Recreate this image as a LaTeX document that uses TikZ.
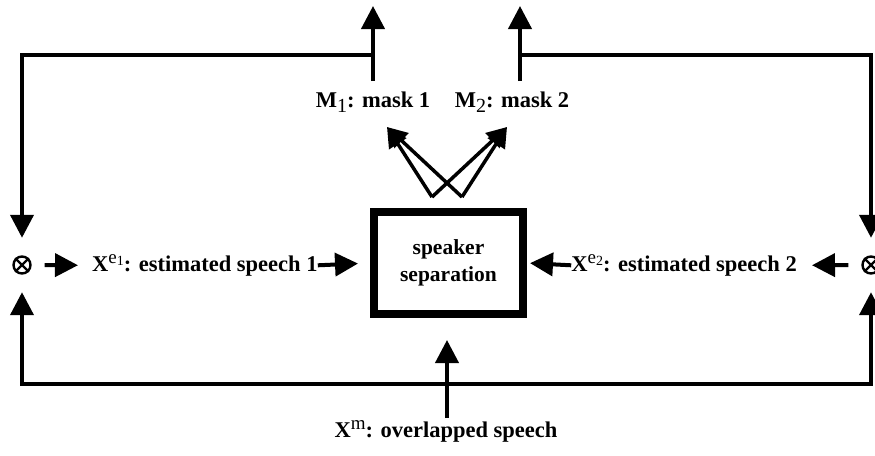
\documentclass[tikz,border=0pt]{standalone}
\usepackage{fontspec}
\setmainfont{Liberation Serif}
\usetikzlibrary{arrows.meta}
\begin{document}
\begin{tikzpicture}[x=1pt,y=-1pt,
  lbl/.style={font=\fontsize{22.5}{26}\selectfont\bfseries, inner sep=0pt},
  arr/.style={line width=4pt, -{Triangle[length=23pt,width=23pt]}},
  thin arr/.style={line width=3.5pt, -{Triangle[length=20pt,width=20pt]}},
  mult/.style={circle, draw, line width=2.4pt, minimum size=17pt, inner sep=0pt}
]
\useasboundingbox (0,0) rectangle (875,455);
% box
\node[draw, line width=8pt, minimum width=149pt, minimum height=102pt, inner sep=0pt,
      align=center, font=\fontsize{21.5}{27}\selectfont\bfseries] (box) at (448.5,263) {speaker\\separation};
% multipliers
\node[mult] (o1) at (22,265) {};
\draw[line width=2.4pt] (o1.north west) -- (o1.south east) (o1.north east) -- (o1.south west);
\node[mult] (o2) at (871,265) {};
\draw[line width=2.4pt] (o2.north west) -- (o2.south east) (o2.north east) -- (o2.south west);
% labels
\node[lbl, anchor=base west] (x1) at (92,271) {X\raisebox{0.7ex}{\normalfont\fontsize{19}{19}\selectfont e\raisebox{-0.25ex}{\fontsize{14}{14}\selectfont 1}}: estimated speech 1};
\node[lbl, anchor=base east] (x2) at (797,271) {X\raisebox{0.7ex}{\normalfont\fontsize{19}{19}\selectfont e\raisebox{-0.25ex}{\fontsize{14}{14}\selectfont 2}}: estimated speech 2};
\node[lbl, anchor=base] (m1) at (373,107) {M\raisebox{-0.5ex}{\normalfont\fontsize{20}{20}\selectfont 1}: mask 1};
\node[lbl, anchor=base] (m2) at (512,107) {M\raisebox{-0.5ex}{\normalfont\fontsize{20}{20}\selectfont 2}: mask 2};
\node[lbl, anchor=base] (xm) at (446,437) {X\raisebox{0.75ex}{\normalfont\fontsize{19}{19}\selectfont m}: overlapped speech};
% coordinates
\coordinate (t1) at (373,6);
\coordinate (t2) at (520,6);
\coordinate (j1) at (373,55);
\coordinate (j2) at (520,55);
\coordinate (b1) at (373,81);
\coordinate (b2) at (520,81);
\coordinate (jb) at (447,384);
\coordinate (xt) at (447,340);
\coordinate (xb) at (447,418);
\coordinate (a1) at (432,197);
\coordinate (a2) at (462,197);
\coordinate (h1) at (387,127);
\coordinate (h2) at (507,127);
% top feedback
\draw[arr] (b1) -- (t1);
\draw[arr] (b2) -- (t2);
\draw[arr, shorten >=17.5pt] (j1) -| (o1.north);
\draw[arr, shorten >=17.5pt] (j2) -| (o2.north);
% bottom
\draw[arr, shorten >=17.5pt] (jb) -| (o1.south);
\draw[arr, shorten >=17.5pt] (jb) -| (o2.south);
\draw[arr] (xb) -- (xt);
% side arrows
\draw[arr, shorten <=13pt, shorten >=14pt] (o1.east) -- (x1.west);
\draw[arr, shorten >=12pt] (x1.east) -- (box.west);
\draw[arr, shorten <=13pt, shorten >=15pt] (o2.west) -- (x2.east);
\draw[arr, shorten >=3pt] (x2.west) -- (box.east);
% mask arrows
\draw[thin arr] (a1) -- (h1);
\draw[thin arr] (a2) -- (h1);
\draw[thin arr] (a1) -- (h2);
\draw[thin arr] (a2) -- (h2);
\end{tikzpicture}
\end{document}
